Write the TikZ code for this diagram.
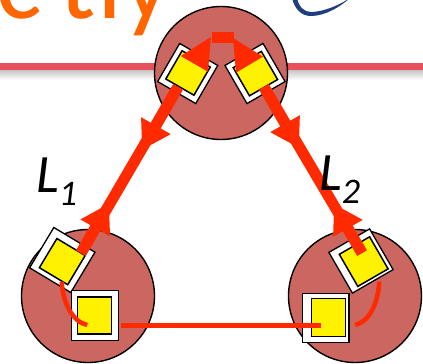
\documentclass[tikz,border=0pt]{standalone}
\usepackage{fontspec}
\setmainfont{Carlito}
\usetikzlibrary{arrows.meta}
\definecolor{linkred}{HTML}{FF2A00}
\definecolor{siteface}{HTML}{CC6660}
\definecolor{titleorange}{HTML}{FF6600}
\definecolor{bandred}{HTML}{E8505B}
\definecolor{swoosh}{HTML}{1F3E7F}
\tikzset{
  site/.style={circle,draw=black,line width=1.4pt,fill=siteface,minimum size=133pt,inner sep=0pt},
  outerbox/.style={draw=black,line width=1.3pt,fill=white,inner sep=0pt},
  innerbox/.style={draw=black,line width=1.5pt,fill=yellow,inner sep=0pt},
  link/.style={draw=linkred,line width=11pt},
  headed/.style={link,-{Triangle[length=28pt,width=32pt]}},
  thinlink/.style={draw=linkred,line width=5pt},
  loopback/.style={draw=linkred,line width=4.5pt},
  lbl/.style={inner sep=0pt,anchor=base west,font=\fontsize{54}{54}\selectfont\itshape}
}
\begin{document}
\begin{tikzpicture}[x=1pt,y=-1pt]
\useasboundingbox (0,0) rectangle (423,364);
\clip (0,0) rectangle (423,364);
% slide furniture
\shade[top color=black!25,bottom color=white] (0,69) rectangle (423,80);
\fill[bandred] (0,63) rectangle (423,69.5);
\node[inner sep=0pt,anchor=base west,text=titleorange,font=\fontsize{108}{108}\selectfont] (title) at (-4,19) {c\kern18pt t\kern2pt r\kern-13pt y};
\fill[swoosh] (292,-2) .. controls (295,10) and (302,16) .. (311,16) .. controls (325,16) and (340,7) .. (350,-2) .. controls (338,6) and (322,12) .. (311,12) .. controls (304,12) and (299,7) .. (297,-2) -- cycle;
% sites
\node[site] (top) at (221,73) {};
\node[site] (left) at (88,296) {};
\node[site] (right) at (355,296) {};
% interfaces
\node[outerbox,minimum width=44pt,minimum height=44pt,rotate=-30] (tlo) at (187.7,73.5) {};
\node[innerbox,minimum width=32.5pt,minimum height=32.5pt,rotate=-30] (tli) at (188,73) {};
\node[outerbox,minimum width=44pt,minimum height=44pt,rotate=30] (tro) at (255,73.5) {};
\node[innerbox,minimum width=32.5pt,minimum height=32.5pt,rotate=30] (tri) at (255.4,73.6) {};
\node[outerbox,minimum width=48pt,minimum height=47pt,rotate=-31] (lao) at (62.3,260) {};
\node[innerbox,minimum width=33pt,minimum height=34pt,rotate=-31] (lai) at (62.3,261.6) {};
\node[outerbox,minimum width=47pt,minimum height=47pt,rotate=30] (rao) at (361,261) {};
\node[innerbox,minimum width=35pt,minimum height=37pt,rotate=30] (rai) at (363.7,261.6) {};
\node[outerbox,minimum width=46.6pt,minimum height=50pt] (lbo) at (95,315.7) {};
\node[innerbox,minimum width=34pt,minimum height=37.3pt] (lbi) at (94.7,315.4) {};
\node[outerbox,minimum width=46.7pt,minimum height=49pt] (rbo) at (325.7,317.8) {};
\node[innerbox,minimum width=34pt,minimum height=38pt] (rbi) at (328.3,317.7) {};
% internal wedges
\node[fill=linkred,inner sep=0pt,minimum width=22pt,minimum height=11pt] (bar) at (222.7,37.5) {};
\fill[linkred] (211,37) -- (180.7,56) -- (208,71.7) -- cycle;
\fill[linkred] (233,38) -- (263,56.7) -- (236,72.7) -- cycle;
% links
\coordinate (A1) at (178,87);
\coordinate (A2) at (81,253);
\coordinate (A3) at (142,150);
\coordinate (A4) at (109,203.5);
\coordinate (B1) at (264,87);
\coordinate (B2) at (362,253);
\coordinate (B3) at (299,148);
\coordinate (B4) at (334,204);
\draw[link] (A1) -- (A2);
\draw[headed] (A1) -- (A3);
\draw[headed] (A2) -- (A4);
\draw[link] (B1) -- (B2);
\draw[headed] (B1) -- (B3);
\draw[headed] (B2) -- (B4);
% bottom link and loopbacks
\coordinate (C1) at (121,325);
\coordinate (C2) at (320.7,325);
\draw[thinlink] (C1) -- (C2);
\coordinate (D1) at (61.7,281.7);
\coordinate (D2) at (87.3,325);
\draw[loopback] (D1) .. controls (63,304) and (73,322) .. (D2);
\coordinate (E1) at (379.3,281.7);
\coordinate (E2) at (355,325);
\draw[loopback] (E1) .. controls (378,304) and (369,322) .. (E2);
% labels
\node[lbl] (L1) at (36,192) {L\raisebox{-13pt}{\fontsize{36}{36}\selectfont 1}};
\node[lbl] (L2) at (319,190) {L\raisebox{-13pt}{\fontsize{36}{36}\selectfont 2}};
\end{tikzpicture}
\end{document}
